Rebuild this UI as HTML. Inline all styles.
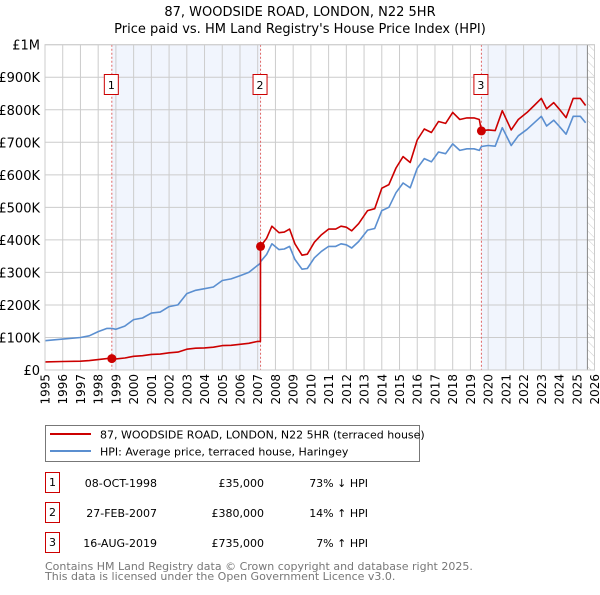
<!DOCTYPE html>
<html><head><meta charset="utf-8"><style>
body{margin:0;background:#fff;font-family:"Liberation Sans","DejaVu Sans",sans-serif;}
svg text{font-family:"DejaVu Sans","Liberation Sans",sans-serif;}
</style></head><body>
<svg id="c" width="600" height="590" xmlns="http://www.w3.org/2000/svg">
<defs><pattern id="hatch" width="6" height="6" patternUnits="userSpaceOnUse" patternTransform="rotate(-45)"><line x1="0" y1="0" x2="0" y2="6" stroke="#ccc" stroke-width="1"/></pattern></defs>
<text x="300" y="16" text-anchor="middle" font-size="13">87, WOODSIDE ROAD, LONDON, N22 5HR</text>
<text x="300" y="33" text-anchor="middle" font-size="13">Price paid vs. HM Land Registry's House Price Index (HPI)</text>
<g id="plot"></g>
<g>
<rect x="45.5" y="425.5" width="374" height="36" fill="#fff" stroke="#777"/>
<line x1="50" y1="434" x2="91" y2="434" stroke="#cc0000" stroke-width="2"/>
<text x="100" y="438.5" font-size="11">87, WOODSIDE ROAD, LONDON, N22 5HR (terraced house)</text>
<line x1="50" y1="451" x2="91" y2="451" stroke="#5b8fd0" stroke-width="2"/>
<text x="100" y="455.5" font-size="11">HPI: Average price, terraced house, Haringey</text>
</g>
<g id="table" font-size="11"></g>
<text x="45" y="570" font-size="11" fill="#777">Contains HM Land Registry data © Crown copyright and database right 2025.</text>
<text x="45" y="580" font-size="11" fill="#777">This data is licensed under the Open Government Licence v3.0.</text>
</svg>
<script>
const dates=[1995,1996,1997,1997.5,1998,1998.5,1998.77,1999,1999.5,2000,2000.5,2001,2001.5,2002,2002.5,2003,2003.5,2004,2004.5,2005,2005.5,2006,2006.5,2007,2007.15,2007.16,2007.5,2007.8,2008.2,2008.5,2008.8,2009.1,2009.5,2009.8,2010.2,2010.6,2011,2011.4,2011.7,2012,2012.3,2012.7,2013.2,2013.6,2014,2014.4,2014.8,2015.2,2015.6,2016,2016.4,2016.8,2017.2,2017.6,2018,2018.4,2018.8,2019.2,2019.5,2019.62,2020,2020.4,2020.8,2021.3,2021.7,2022.2,2022.6,2023,2023.3,2023.7,2024,2024.4,2024.8,2025.2,2025.5];
const hpiValues=[90,95,100,105,118,128,128,125,135,155,160,175,178,195,200,235,245,250,255,275,280,290,300,322,328,333,355,388,370,372,380,340,310,312,345,365,380,380,388,385,375,395,430,435,490,500,545,575,560,620,650,640,670,665,695,675,680,680,675,687,690,688,745,690,720,740,760,780,750,768,750,725,780,780,760];
const priceValues=[25,26,27,29,32,35,35,34,37,42,44,48,49,53,55,64,67,68,70,75,76,79,82,88,88,380,405,442,422,424,433,388,353,356,393,416,433,433,442,439,428,450,490,496,559,570,621,656,638,707,741,730,764,758,792,770,775,775,770,735,738,736,797,738,770,792,813,835,803,822,803,776,835,835,813];
const yTicks=[0,100,200,300,400,500,600,700,800,900,1000];
const yTickLabels=["£0","£100K","£200K","£300K","£400K","£500K","£600K","£700K","£800K","£900K","£1M"];
const xTicks=[1995,1996,1997,1998,1999,2000,2001,2002,2003,2004,2005,2006,2007,2008,2009,2010,2011,2012,2013,2014,2015,2016,2017,2018,2019,2020,2021,2022,2023,2024,2025,2026];
const saleIds=["1","2","3"];
const saleDates=[1998.77,2007.16,2019.62];
const salePrices=[35,380,735];
const saleDateLabels=["08-OCT-1998","27-FEB-2007","16-AUG-2019"];
const salePriceLabels=["£35,000","£380,000","£735,000"];
const saleHpiLabels=["73% ↓ HPI","14% ↑ HPI","7% ↑ HPI"];
const dataEnd=2025.6;

const NS="http://www.w3.org/2000/svg";
const X0=45,X1=594.5,Y0=370,Y1=44.7;
const xs=y=>X0+(y-1995)/(2026-1995)*(X1-X0);
const ys=v=>Y0-v/1000*(Y0-Y1);
function mk(tag,attrs,parent){const e=document.createElementNS(NS,tag);for(const k in attrs)e.setAttribute(k,attrs[k]);parent.appendChild(e);return e;}
const plot=document.getElementById('plot');
// shading
for(let i=0;i<saleDates.length;i++){
  const end=i<saleDates.length-1?saleDates[i+1]:dataEnd;
  if(i===1)continue;
  const r=mk('rect',{x:xs(saleDates[i]),y:Y1,width:xs(end)-xs(saleDates[i]),height:Y0-Y1,fill:'#eef3fc',opacity:0.8},plot);
  
  
}
const h=mk('rect',{x:xs(dataEnd),y:Y1,width:X1-xs(dataEnd),height:Y0-Y1,fill:'url(#hatch)'},plot);


// grid
yTicks.forEach((v,i)=>{
  const l=mk('line',{x1:X0,x2:X1,y1:ys(v),y2:ys(v),stroke:'#ccc','stroke-width':1},plot);
  
  
  const t=mk('text',{x:40,y:ys(v)+5,'text-anchor':'end','font-size':13},plot);
  t.textContent=yTickLabels[i];
  
  
});
xTicks.forEach(yr=>{
  const l=mk('line',{x1:xs(yr),x2:xs(yr),y1:Y1,y2:Y0,stroke:'#ccc','stroke-width':1},plot);
  
  
  const t=mk('text',{x:0,y:0,'text-anchor':'end','font-size':12,transform:`translate(${xs(yr)+4.5},374) rotate(-90)`},plot);
  t.textContent=yr;
  
  
});
const dl=mk('line',{x1:xs(dataEnd),x2:xs(dataEnd),y1:Y1,y2:Y0,stroke:'#888','stroke-width':1},plot);


// sale vlines
saleDates.forEach((d,i)=>{
  const l=mk('line',{x1:xs(d),x2:xs(d),y1:Y1,y2:Y0,stroke:'#e06666','stroke-width':1,'stroke-dasharray':'2,2'},plot);
  
  
  const b=mk('rect',{x:xs(d)-7.5,y:74.5,width:14,height:20,fill:'#fff',stroke:'#cc0000'},plot);
  
  
  const t=mk('text',{x:xs(d)-0.5,y:89,'text-anchor':'middle','font-size':11},plot);
  t.textContent=saleIds[i];
  
  
});
function line(vals,color,name){
  const d=dates.map((x,i)=>(i?'L':'M')+xs(x).toFixed(1)+','+ys(vals[i]).toFixed(1)).join('');
  const p=mk('path',{d:d,fill:'none',stroke:color,'stroke-width':1.6,'stroke-linejoin':'round'},plot);
  
  
}
line(hpiValues,'#5b8fd0','hpi-line');
line(priceValues,'#cc0000','price-paid-line');
saleDates.forEach((d,i)=>{
  const c=mk('circle',{cx:xs(d),cy:ys(salePrices[i]),r:4.5,fill:'#cc0000'},plot);
  
  
});
mk('rect',{x:X0,y:Y1,width:X1-X0,height:Y0-Y1,fill:'none',stroke:'#ccc'},plot);
// table
const tb=document.getElementById('table');
saleIds.forEach((id,i)=>{
  const y=483+i*30;
  const b=mk('rect',{x:45.5,y:y-10.5,width:14,height:20,fill:'#fff',stroke:'#cc0000'},tb);
  
  
  const t0=mk('text',{x:52.5,y:y+3,'text-anchor':'middle'},tb);t0.textContent=id;
  
  
  const t1=mk('text',{x:157,y:y+4,'text-anchor':'end'},tb);t1.textContent=saleDateLabels[i];
  
  
  const t2=mk('text',{x:264,y:y+4,'text-anchor':'end'},tb);t2.textContent=salePriceLabels[i];
  
  
  const t3=mk('text',{x:368,y:y+4,'text-anchor':'end'},tb);t3.textContent=saleHpiLabels[i];
  
  
});
</script>
</body></html>
